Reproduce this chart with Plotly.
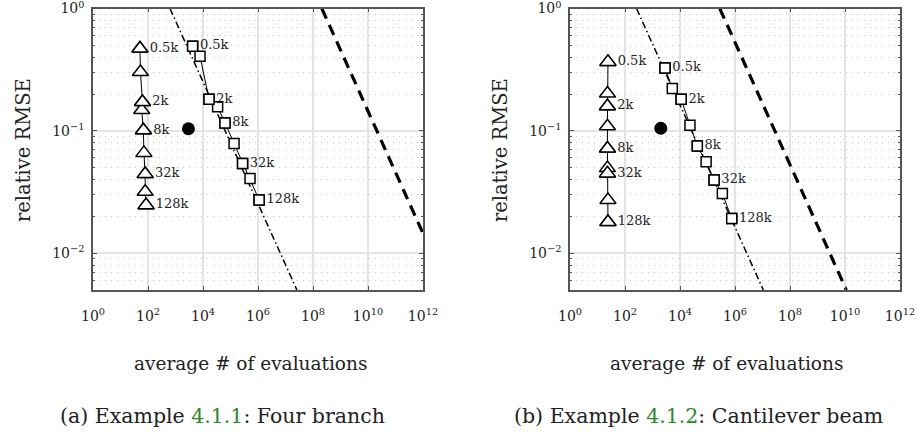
import plotly.graph_objects as go

# ---------------- data ----------------
sample_labels = ["0.5k", "2k", "8k", "32k", "128k"]   # every second sample size is labelled

# (a) Four branch
a_tri_x = [51, 53, 63, 59, 68, 71, 79, 79, 85]
a_tri_y = [0.471, 0.303, 0.172, 0.148, 0.101, 0.066, 0.0443, 0.0318, 0.0247]
a_sq_x = [4200, 7800, 16600, 34000, 63000, 135000, 275000, 513000, 1100000]
a_sq_y = [0.492, 0.408, 0.181, 0.157, 0.116, 0.0789, 0.0542, 0.0408, 0.0272]
a_dot_x = [2950]
a_dot_y = [0.104]
a_mc_x = [630, 2.6e7]
a_mc_y = [1.0, 0.005]
a_ref_x = [2.1e8, 1e12]
a_ref_y = [1.0, 0.0145]

# (b) Cantilever beam
b_tri_x = [24, 23, 23, 23, 23, 23, 23, 24, 24]
b_tri_y = [0.366, 0.202, 0.159, 0.109, 0.0718, 0.0496, 0.0449, 0.0272, 0.018]
b_sq_x = [2850, 5250, 11000, 23000, 42600, 89000, 174000, 347000, 760000]
b_sq_y = [0.327, 0.222, 0.181, 0.111, 0.075, 0.0558, 0.0396, 0.0308, 0.0192]
b_dot_x = [2000]
b_dot_y = [0.105]
b_mc_x = [263, 1.07e7]
b_mc_y = [1.0, 0.005]
b_ref_x = [2.8e5, 1.12e10]
b_ref_y = [1.0, 0.005]

x_tickvals = [1, 1e2, 1e4, 1e6, 1e8, 1e10, 1e12]
x_ticktext = ["10<sup>0</sup>", "10<sup>2</sup>", "10<sup>4</sup>", "10<sup>6</sup>",
              "10<sup>8</sup>", "10<sup>10</sup>", "10<sup>12</sup>"]
y_tickvals = [1, 0.1, 0.01]
y_ticktext = ["10<sup>0</sup>", "10<sup>\u22121</sup>", "10<sup>\u22122</sup>"]

x_title = "average # of evaluations"
y_title = "relative RMSE"
captions = ["(a) Example <span style='color:#2b8a2b'>4.1.1</span>: Four branch",
            "(b) Example <span style='color:#2b8a2b'>4.1.2</span>: Cantilever beam"]

# ---------------- layout constants ----------------
W, H = 917, 438
FONT = "DejaVu Serif"
panels = [
    dict(x0=93, x1=423, tri=(a_tri_x, a_tri_y), sq=(a_sq_x, a_sq_y), dot=(a_dot_x, a_dot_y),
         mc=(a_mc_x, a_mc_y), ref=(a_ref_x, a_ref_y), xt=250, cap=222),
    dict(x0=570, x1=900, tri=(b_tri_x, b_tri_y), sq=(b_sq_x, b_sq_y), dot=(b_dot_x, b_dot_y),
         mc=(b_mc_x, b_mc_y), ref=(b_ref_x, b_ref_y), xt=726, cap=698),
]
y_top, y_bot = 8.5, 290

minor_vals = [m * 10.0 ** e for e in (-3, -2, -1) for m in range(2, 10) if m * 10.0 ** e >= 0.005]

fig = go.Figure()
for i, p in enumerate(panels):
    xa = "x" if i == 0 else "x2"
    ya = "y" if i == 0 else "y2"
    fig.add_trace(go.Scatter(x=p["ref"][0], y=p["ref"][1], mode="lines", xaxis=xa, yaxis=ya,
                             line=dict(color="black", width=3.2, dash="11px,7px"),
                             showlegend=False, hoverinfo="skip"))
    fig.add_trace(go.Scatter(x=p["mc"][0], y=p["mc"][1], mode="lines", xaxis=xa, yaxis=ya,
                             line=dict(color="black", width=1.5, dash="7px,3px,1.5px,3px"),
                             showlegend=False, hoverinfo="skip"))
    for key, sym, size in (("tri", "triangle-up", 14), ("sq", "square", 10)):
        xs, ys = p[key]
        fig.add_trace(go.Scatter(x=xs, y=ys, mode="lines+markers", xaxis=xa, yaxis=ya,
                                 line=dict(color="black", width=1),
                                 marker=dict(symbol=sym, size=size, color="white",
                                             line=dict(color="black", width=1.5)),
                                 showlegend=False))
        fig.add_trace(go.Scatter(x=xs[::2], y=ys[::2], mode="markers+text", xaxis=xa, yaxis=ya,
                                 text=sample_labels, textposition="middle right",
                                 textfont=dict(family=FONT, size=13, color="#222"),
                                 marker=dict(symbol=sym, size=size, color="white",
                                             line=dict(color="black", width=1.5)),
                                 showlegend=False, hoverinfo="skip"))
    fig.add_trace(go.Scatter(x=p["dot"][0], y=p["dot"][1], mode="markers", xaxis=xa, yaxis=ya,
                             marker=dict(symbol="circle", size=13, color="black"),
                             showlegend=False))

axis_common = dict(showline=True, linecolor="#555", linewidth=1.5, mirror="ticks",
                   ticks="inside", ticklen=4, tickcolor="#555", tickwidth=1,
                   gridcolor="#e3e3e3", gridwidth=1.5, zeroline=False, automargin=False,
                   ticklabeloverflow="allow",
                   tickfont=dict(family=FONT, size=14, color="#222"))

layout = dict(width=W, height=H, margin=dict(l=0, r=0, t=0, b=0),
              paper_bgcolor="white", plot_bgcolor="white",
              font=dict(family=FONT, color="#222"))
for i, p in enumerate(panels):
    sx = "" if i == 0 else "2"
    layout["xaxis" + sx] = dict(axis_common, type="log", range=[0, 12],
                                domain=[p["x0"] / W, p["x1"] / W],
                                anchor="y" + sx, tickmode="array",
                                tickvals=x_tickvals, ticktext=x_ticktext,
                                ticklabelstandoff=12)
    layout["yaxis" + sx] = dict(axis_common, type="log", range=[-2.30103, 0],
                                domain=[1 - y_bot / H, 1 - y_top / H],
                                anchor="x" + sx, tickmode="array",
                                tickvals=y_tickvals, ticktext=y_ticktext,
                                ticklabelstandoff=4,
                                minor=dict(tickmode="array", tickvals=minor_vals, ticks="inside",
                                           ticklen=2.5, tickcolor="#555", showgrid=True,
                                           gridcolor="#c8c8c8", griddash="1px,5px", gridwidth=1))
fig.update_layout(**layout)

ann = []
for i, p in enumerate(panels):
    ann.append(dict(text=x_title, x=p["xt"] / W, y=1 - 363 / H, xref="paper", yref="paper",
                    showarrow=False, font=dict(family=FONT, size=18.5, color="#222"),
                    xanchor="center", yanchor="middle"))
    ann.append(dict(text=y_title, x=(p["x0"] - 70) / W, y=1 - 150 / H, xref="paper", yref="paper",
                    showarrow=False, textangle=-90, font=dict(family=FONT, size=19.5, color="#222"),
                    xanchor="center", yanchor="middle"))
    ann.append(dict(text=captions[i], x=p["cap"] / W, y=1 - 416 / H, xref="paper", yref="paper",
                    showarrow=False, font=dict(family=FONT, size=20.5, color="#222"),
                    xanchor="center", yanchor="middle"))
fig.update_layout(annotations=ann)

fig.write_html("out.html", config={"displayModeBar": False},
               post_script="document.body.style.margin='0';document.body.style.overflow='hidden';")
